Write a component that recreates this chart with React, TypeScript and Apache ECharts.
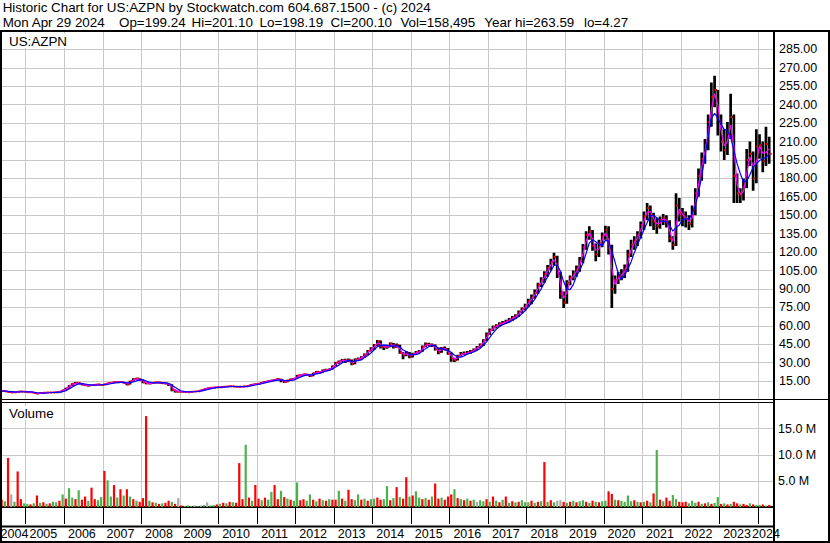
import React, { useEffect, useRef } from "react";
import * as echarts from "echarts";

const FONT = "'Liberation Sans', Arial, Helvetica, sans-serif";

// Monthly bars, May 2004 - Apr 2024 (first line: May-Dec 2004, last line: Jan-Apr 2024)
const firstYear = 2004;
const firstMonth = 5;

const closes = [
  6.9, 6.7, 6.2, 5.8, 6.0, 6.4, 6.6, 6.3,
  6.0, 5.9, 5.3, 4.8, 5.2, 5.5, 5.6, 5.7, 5.8, 6.0, 6.3, 7.6,
  9.0, 11.2, 12.8, 13.6, 13.2, 12.2, 11.6, 11.3, 11.8, 12.0, 12.2, 11.9,
  12.5, 13.2, 13.6, 14.2, 14.0, 14.3, 13.5, 12.3, 14.8, 16.6, 17.0, 16.0,
  14.0, 13.2, 13.0, 13.6, 14.0, 13.8, 13.2, 13.0, 12.2, 8.0, 6.5, 6.6,
  6.3, 6.1, 6.0, 6.4, 6.6, 6.8, 7.5, 8.5, 9.2, 9.6, 9.8, 9.9,
  10.0, 10.3, 10.5, 10.8, 10.6, 10.4, 10.3, 10.6, 10.8, 11.5, 12.2, 12.6,
  13.0, 13.8, 14.5, 15.0, 15.5, 16.0, 16.5, 15.6, 14.2, 15.5, 16.5, 17.0,
  19.5, 19.8, 20.5, 20.2, 19.3, 21.3, 22.6, 22.0, 23.8, 24.0, 24.8, 27.0,
  30.0, 31.0, 32.2, 31.5, 32.0, 28.8, 32.5, 33.0, 34.4, 36.5, 39.5, 41.5,
  44.0, 47.5, 43.0, 42.5, 43.0, 45.5, 43.0, 44.2, 38.0, 36.0, 38.0, 35.0,
  37.0, 38.5, 39.0, 43.0, 45.0, 44.5, 44.0, 41.0, 38.5, 42.0, 41.0, 37.5,
  33.5, 32.0, 35.5, 37.0, 37.5, 38.0, 39.0, 40.5, 42.5, 44.5, 48.0, 53.0,
  56.5, 59.0, 60.0, 61.5, 62.5, 63.5, 65.0, 66.5, 68.0, 71.0, 73.5, 76.5,
  80, 83, 87, 93.5, 97, 102, 107, 112, 116, 103, 86, 79,
  95, 99, 102, 106, 113, 124, 134, 137, 125, 118, 127, 133,
  138, 123, 90, 97, 100, 102, 106, 118, 126, 129, 134, 142,
  149, 156, 150, 145, 141, 146, 148, 144, 131, 126, 158, 152,
  150, 147, 143, 152, 168, 182, 196, 207, 226, 246, 252, 228,
  210, 203, 217, 230, 182, 168, 166, 173, 195, 200, 180, 206,
  207, 194, 208, 200.1,
];

const highs = [
  7.4, 7.2, 7.0, 6.4, 6.5, 6.8, 7.1, 6.9,
  6.5, 6.3, 6.0, 5.4, 5.6, 5.9, 6.0, 6.1, 6.2, 6.4, 6.8, 8.0,
  9.6, 11.6, 13.2, 14.2, 14.0, 13.4, 12.6, 12.0, 12.3, 12.5, 12.8, 12.6,
  12.9, 13.6, 14.1, 14.6, 14.6, 14.8, 14.5, 13.6, 15.2, 17.2, 17.8, 17.2,
  16.2, 14.4, 13.7, 14.0, 14.5, 14.5, 14.0, 13.6, 13.3, 12.4, 8.2, 7.2,
  6.9, 6.6, 6.4, 6.8, 7.0, 7.2, 7.9, 8.8, 9.6, 10.0, 10.2, 10.3,
  10.4, 10.7, 11.0, 11.2, 11.1, 10.9, 10.8, 11.0, 11.2, 11.9, 12.6, 13.0,
  13.5, 14.2, 15.0, 15.4, 16.0, 16.5, 17.2, 16.8, 15.7, 16.0, 17.0, 17.6,
  19.9, 20.4, 21.0, 21.0, 20.6, 21.7, 23.2, 23.0, 24.4, 25.0, 25.3, 27.6,
  30.6, 31.8, 33.0, 33.2, 33.4, 32.6, 33.4, 34.2, 35.2, 37.4, 40.4, 42.6,
  45.2, 48.5, 48.0, 44.5, 44.6, 46.5, 46.0, 45.6, 44.6, 38.6, 39.5, 38.6,
  38.0, 39.5, 40.2, 44.0, 46.5, 46.2, 45.6, 44.8, 42.0, 42.8, 43.2, 42.0,
  38.0, 34.0, 36.5, 38.6, 39.0, 39.4, 40.2, 41.6, 43.5, 45.6, 49.0, 54.5,
  57.8, 60.2, 61.2, 62.8, 64.0, 65.0, 66.4, 68.0, 69.4, 72.4, 75.0, 78.0,
  82, 85.5, 89.5, 95, 99.5, 104.5, 109.5, 114.5, 119.5, 117, 104, 88,
  97, 101, 105, 109, 116, 126.5, 137, 141, 138, 127, 130, 136,
  141.5, 141, 126, 101, 104, 106, 110, 122, 130, 133, 137, 145,
  153, 160, 158, 152, 148, 149, 151, 150, 146, 133, 168, 164,
  156, 153, 150, 158, 172, 188, 201, 212, 232, 258, 263.6, 252,
  232, 220, 226, 249, 232, 184, 172, 180, 204, 210, 202, 220,
  216, 210, 222, 214,
];

const lows = [
  6.4, 6.2, 5.6, 5.2, 5.5, 5.8, 6.1, 5.9,
  5.8, 5.6, 5.0, 4.3, 4.7, 5.0, 5.3, 5.3, 5.4, 5.6, 5.9, 6.2,
  7.5, 8.8, 11.0, 12.6, 12.4, 11.6, 10.9, 10.6, 11.0, 11.4, 11.7, 11.3,
  11.6, 12.3, 12.9, 13.4, 13.5, 13.7, 13.0, 11.6, 12.2, 14.6, 16.0, 15.3,
  13.2, 12.5, 12.4, 12.6, 13.2, 13.2, 12.6, 12.4, 11.0, 6.8, 5.6, 5.8,
  5.8, 5.7, 5.6, 5.9, 6.2, 6.4, 6.8, 7.4, 8.4, 9.1, 9.3, 9.5,
  9.6, 9.8, 10.1, 10.3, 10.2, 10.0, 9.9, 10.1, 10.4, 10.7, 11.4, 12.0,
  12.4, 12.9, 13.7, 14.4, 14.8, 15.3, 15.8, 14.0, 13.4, 14.0, 15.3, 16.2,
  17.0, 18.9, 19.6, 19.4, 18.4, 19.0, 21.0, 21.3, 21.8, 23.0, 23.5, 24.5,
  27.0, 29.2, 30.4, 29.8, 30.6, 27.8, 28.6, 31.6, 32.6, 34.0, 36.2, 39.0,
  40.2, 43.5, 41.5, 40.2, 41.4, 42.6, 41.6, 42.2, 37.2, 32.8, 35.2, 33.6,
  34.2, 36.2, 37.4, 38.6, 42.6, 43.4, 42.8, 39.8, 36.8, 38.0, 39.8, 36.4,
  30.8, 30.6, 31.8, 35.0, 36.2, 36.6, 37.2, 38.6, 40.2, 42.0, 43.6, 47.6,
  52.6, 55.8, 57.8, 59.2, 60.6, 61.4, 62.6, 64.0, 65.6, 67.2, 70.2, 72.6,
  75.5, 77.5, 82, 86, 91.5, 95, 100, 105, 109, 99, 82, 74.5,
  78, 93, 97, 100, 104, 111, 122, 130, 121, 112.5, 116, 124,
  130, 118, 74.5, 86, 94, 97, 99, 104, 116, 122, 125, 131,
  138, 146, 141, 138, 135, 139, 142, 140, 128, 122, 125, 145,
  141, 140, 138, 140, 150, 165, 178, 192, 203, 222, 238, 215,
  202, 195, 199, 212, 160, 160, 160, 162, 172, 190, 170, 176,
  196, 185, 190, 192,
];

// short moving average (magenta)
const maFast = [
  6.9, 6.8, 6.5, 6.0, 5.9, 6.2, 6.5, 6.5,
  6.2, 6.0, 5.6, 5.1, 5.0, 5.4, 5.6, 5.7, 5.8, 5.9, 6.2, 7.0,
  8.3, 10.1, 12.0, 13.2, 13.4, 12.7, 11.9, 11.5, 11.6, 11.9, 12.1, 12.0,
  12.2, 12.9, 13.4, 13.9, 14.1, 14.2, 13.9, 12.9, 13.6, 15.7, 16.8, 16.5,
  15.0, 13.6, 13.1, 13.3, 13.8, 13.9, 13.5, 13.1, 12.6, 10.1, 7.3, 6.6,
  6.5, 6.2, 6.1, 6.2, 6.5, 6.7, 7.2, 8.0, 8.9, 9.4, 9.7, 9.9,
  10.0, 10.2, 10.4, 10.7, 10.7, 10.5, 10.4, 10.5, 10.7, 11.2, 11.9, 12.4,
  12.8, 13.4, 14.2, 14.8, 15.3, 15.8, 16.3, 16.0, 14.9, 14.9, 16.0, 16.8,
  18.3, 19.7, 20.2, 20.4, 19.8, 20.3, 22.0, 22.3, 22.9, 23.9, 24.4, 25.9,
  28.5, 30.5, 31.6, 31.9, 31.8, 30.4, 30.7, 32.8, 33.7, 35.5, 38.0, 40.5,
  42.8, 45.8, 45.3, 42.8, 42.8, 44.3, 44.3, 43.6, 41.1, 37.0, 37.0, 36.5,
  36.0, 37.8, 38.8, 41.0, 44.0, 44.8, 44.3, 42.5, 39.8, 40.3, 41.5, 39.3,
  35.5, 32.8, 33.8, 36.3, 37.3, 37.8, 38.5, 39.8, 41.5, 43.5, 46.3, 50.5,
  54.8, 57.8, 59.5, 60.8, 62.0, 63.0, 64.3, 65.8, 67.3, 69.5, 72.3, 75.0,
  78.3, 81.5, 85.0, 90.3, 95.3, 99.5, 104.5, 109.5, 114.0, 109.5, 94.5, 82.5,
  87.0, 97.0, 100.5, 104.0, 109.5, 118.5, 129.0, 135.5, 131.0, 121.5, 122.5, 130.0,
  135.5, 130.5, 106.5, 93.5, 98.5, 101.0, 104.0, 112.0, 122.0, 127.5, 131.5, 138.0,
  145.5, 152.5, 153.0, 147.5, 143.0, 143.5, 147.0, 146.0, 137.5, 128.5, 142.0, 155.0,
  151.0, 148.5, 145.0, 147.5, 160.0, 175.0, 189.0, 201.5, 216.5, 236.0, 249.0, 240.0,
  219.0, 206.5, 210.0, 223.5, 206.0, 175.0, 167.0, 169.5, 184.0, 197.5, 190.0, 193.0,
  206.5, 200.5, 201.0, 204.0,
];

// long moving average (blue)
const maSlow = [
  6.9, 6.8, 6.6, 6.4, 6.2, 6.1, 6.2, 6.3,
  6.3, 6.2, 6.0, 5.5, 5.3, 5.2, 5.3, 5.5, 5.7, 5.8, 5.9, 6.4,
  7.2, 8.5, 10.2, 11.7, 12.7, 12.9, 12.6, 12.1, 11.7, 11.7, 11.8, 12.0,
  12.1, 12.4, 12.8, 13.4, 13.8, 14.0, 14.0, 13.5, 13.7, 14.3, 15.2, 16.1,
  16.0, 15.1, 14.1, 13.5, 13.5, 13.6, 13.7, 13.5, 13.1, 11.6, 9.9, 8.3,
  6.9, 6.4, 6.3, 6.2, 6.3, 6.5, 6.8, 7.4, 8.0, 8.7, 9.3, 9.6,
  9.8, 10.0, 10.2, 10.4, 10.6, 10.6, 10.5, 10.5, 10.5, 10.8, 11.3, 11.8,
  12.3, 12.8, 13.5, 14.1, 14.7, 15.3, 15.8, 15.9, 15.6, 15.4, 15.5, 15.8,
  17.1, 18.2, 19.2, 20.0, 20.0, 20.3, 20.9, 21.3, 22.4, 23.1, 23.7, 24.9,
  26.5, 28.0, 29.8, 31.2, 31.7, 31.1, 31.2, 31.6, 32.2, 34.1, 35.9, 37.9,
  40.4, 43.1, 44.0, 44.3, 44.0, 43.5, 43.5, 43.9, 42.7, 40.3, 39.1, 36.8,
  36.5, 36.6, 37.4, 39.4, 41.4, 42.9, 44.1, 43.6, 42.0, 41.4, 40.6, 39.8,
  38.5, 36.0, 34.6, 34.5, 35.5, 37.0, 37.9, 38.8, 40.0, 41.6, 43.9, 47.0,
  50.5, 54.1, 57.1, 59.3, 60.8, 61.9, 63.0, 64.4, 65.8, 67.6, 69.8, 72.3,
  75.3, 78.3, 81.6, 85.9, 90.1, 94.9, 99.9, 104.5, 109.3, 109.5, 104.3, 96.0,
  90.0, 89.5, 93.5, 100.5, 105.0, 111.0, 119.0, 127.5, 130.0, 128.5, 126.5, 125.5,
  129.5, 129.0, 121.0, 112.0, 102.5, 97.5, 101.0, 106.5, 112.0, 119.5, 126.0, 132.0,
  138.0, 144.0, 149.5, 150.0, 148.0, 145.5, 145.0, 145.0, 142.0, 137.0, 140.0, 142.0,
  146.5, 147.0, 147.0, 151.0, 158.0, 168.0, 182.0, 198.0, 214.0, 229.0, 233.0, 229.0,
  224.0, 220.0, 219.0, 213.5, 203.0, 192.0, 184.0, 177.0, 178.0, 183.0, 189.0, 192.0,
  194.6, 196.0, 197.0, 200.0,
];

// volume in millions (tallest bar in each month)
const volumes = [
  1.4, 1.1, 9.4, 2.4, 1.0, 6.8, 1.5, 0.7,
  0.6, 0.5, 0.7, 2.2, 0.8, 0.9, 0.6, 0.7, 1.0, 0.9, 1.2, 2.4,
  1.6, 3.6, 1.8, 1.5, 3.2, 1.4, 2.0, 1.2, 3.7, 1.5, 1.3, 1.9,
  6.9, 5.1, 2.0, 4.2, 1.8, 3.4, 2.2, 3.4, 2.0, 1.5, 1.2, 1.0,
  1.7, 17.4, 1.2, 0.9, 0.8, 0.6, 0.7, 0.8, 1.2, 1.0, 0.6, 1.7,
  0.3, 0.2, 0.3, 0.2, 0.3, 0.2, 0.3, 0.4, 0.9, 0.3, 0.4, 0.5,
  0.6, 0.8, 0.7, 1.0, 0.9, 0.8, 8.4, 1.5, 11.9, 1.8, 1.2, 4.2,
  1.6, 1.3, 1.8, 1.4, 2.9, 4.2, 1.5, 3.1, 1.9, 1.6, 1.4, 1.2,
  4.7, 1.3, 1.5, 1.2, 2.4, 1.4, 1.1, 1.6, 1.3, 1.2, 1.5, 1.4,
  1.4, 3.1, 1.6, 1.2, 3.3, 1.5, 1.3, 2.4, 1.4, 1.6, 1.2, 1.5,
  1.6, 1.8, 1.4, 1.5, 4.0, 1.3, 1.7, 3.8, 1.9, 1.6, 5.7, 2.0,
  2.2, 3.0, 1.8, 1.5, 1.7, 1.4, 2.0, 4.5, 1.6, 1.8, 1.4, 2.0,
  2.4, 3.4, 1.7, 1.5, 1.3, 1.6, 1.2, 1.4, 1.0, 1.3, 1.1, 1.5,
  1.0, 2.0, 1.2, 0.9, 1.4, 2.0, 0.8, 1.1, 0.9, 1.0, 1.3, 0.9,
  0.9, 1.2, 0.8, 1.0, 1.1, 8.6, 1.0, 1.3, 0.9, 1.2, 1.3, 1.0,
  0.8, 1.0, 1.2, 0.9, 1.1, 1.3, 1.0, 0.8, 1.2, 1.0, 0.9, 1.1,
  1.2, 3.0, 2.5, 1.4, 1.3, 1.2, 1.0, 2.2, 1.1, 1.3, 1.0, 0.9,
  1.0, 1.2, 0.9, 2.6, 10.9, 1.4, 1.1, 1.8, 1.2, 2.3, 1.5, 1.0,
  0.9, 1.0, 0.7, 1.2, 0.8, 1.0, 0.6, 0.7, 0.9, 0.6, 0.8, 1.9,
  0.6, 0.7, 0.5, 0.6, 1.0, 0.7, 0.5, 0.6, 0.4, 0.7, 0.5, 0.4,
  0.4, 0.5, 0.3, 0.4,
];

// r = down (red), g = up (green), x = unchanged (grey)
const volumeDirections = [
  "rgrxgrrg",
  "grgrgrgrggrg", "rggrgrrgrrgg", "rggrgrgrgrgr", "rrgrgrgrrgrx", "rgggxgxgxggr",
  "grgrgrrrgrgr", "rgrggrrgrgrg", "grrggrgrgrgr", "rgrgrrggrgrg", "grrggrgrgrrg",
  "rggrgrgrrgrr", "rgrgrgrgxggr", "grgrgrgrgrgg", "grgrgrgrgxxr", "grgrggrgrgrg",
  "grrgrggggrgr", "grgrgrgrrggr", "rrgggrgrgrgg", "rgrgrrgrrgrg",
  "grgr",
].join("");

const yearLabelMonth: Record<number, number> = { 2004: 9, 2024: 3 };
const titleLine1 = "Historic Chart for US:AZPN by Stockwatch.com 604.687.1500 - (c) 2024";
const titleLine2 = [
  "Mon Apr 29 2024", "Op=199.24", "Hi=201.10", "Lo=198.19",
  "Cl=200.10", "Vol=158,495", "Year hi=263.59", "lo=4.27",
];

const categories: string[] = closes.map((_, i) => {
  const m = firstMonth - 1 + i;
  const y = firstYear + Math.floor(m / 12);
  const mm = (m % 12) + 1;
  return `${y}-${String(mm).padStart(2, "0")}`;
});

const isJan = (i: number) => {
  const c = categories[i];
  return c !== undefined && c.endsWith("-01");
};
const isLabel = (i: number) => {
  const c = categories[i];
  if (!c) return false;
  const y = Number(c.slice(0, 4));
  const m = Number(c.slice(5));
  return m === (yearLabelMonth[y] ?? 6);
};

const volColor: Record<string, string> = { r: "#ff0000", g: "#4cb04c", x: "#a8a8a8" };

function buildOption(): any {
  const gridLine = { show: true, lineStyle: { color: "#c8c8c8", width: 1 } };
  const line = (x1: number, y1: number, x2: number, y2: number, w: number) => ({
    type: "line",
    z: 100,
    shape: { x1, y1, x2, y2 },
    style: { stroke: "#000", lineWidth: w },
    silent: true,
  });
  const text = (t: string, x: number, y: number, bg?: boolean) => ({
    type: "text",
    z: 100,
    x,
    y,
    style: {
      text: t,
      fill: "#000",
      font: `13.4px ${FONT}`,
      verticalAlign: "middle",
      align: "left",
      ...(bg ? { backgroundColor: "#fff", padding: [1, 3, 0, 3] } : {}),
    },
    silent: true,
  });
  const line2X = [2.7, 119, 191.5, 259.5, 330.6, 400.4, 484.3, 583.9];

  return {
    animation: false,
    backgroundColor: "#fff",
    textStyle: { fontFamily: FONT },
    grid: [
      { left: 0, right: 56, top: 31, height: 368.5, outerBoundsMode: "none", containLabel: false },
      { left: 0, right: 56, top: 402.5, height: 104.5, outerBoundsMode: "none", containLabel: false },
    ],
    xAxis: [
      {
        type: "category",
        gridIndex: 0,
        data: categories,
        max: categories.length,
        boundaryGap: true,
        axisLine: { show: true, lineStyle: { color: "#000", width: 1 } },
        axisTick: { show: false },
        axisLabel: { show: false },
        splitLine: { ...gridLine, interval: (i: number) => isJan(i) },
      },
      {
        type: "category",
        gridIndex: 1,
        data: categories,
        max: categories.length,
        boundaryGap: true,
        offset: 1,
        axisLine: { show: true, lineStyle: { color: "#000", width: 2 } },
        axisTick: {
          show: true,
          interval: (i: number) => isJan(i),
          length: 17,
          lineStyle: { color: "#000", width: 1 },
        },
        axisLabel: {
          show: true,
          interval: (i: number) => isLabel(i),
          formatter: (v: string) => (v ? v.slice(0, 4) : ""),
          margin: 19,
          fontSize: 12.5,
          color: "#000",
          fontFamily: FONT,
        },
        splitLine: { ...gridLine, interval: (i: number) => isJan(i) },
      },
    ],
    yAxis: [
      {
        type: "value",
        gridIndex: 0,
        position: "right",
        min: 0,
        max: 300,
        interval: 15,
        axisLine: { show: false },
        axisTick: { show: false },
        axisLabel: {
          margin: 5,
          fontSize: 12.5,
          color: "#000",
          fontFamily: FONT,
          formatter: (v: number) => (v <= 0 || v >= 300 ? "" : v.toFixed(2)),
        },
        splitLine: gridLine,
      },
      {
        type: "value",
        gridIndex: 1,
        position: "right",
        min: 0,
        max: 20,
        interval: 5,
        axisLine: { show: false },
        axisTick: { show: false },
        axisLabel: {
          margin: 4,
          fontSize: 12.5,
          color: "#000",
          fontFamily: FONT,
          formatter: (v: number) => (v <= 0 || v >= 20 ? "" : `${v.toFixed(1)} M`),
        },
        splitLine: gridLine,
      },
    ],
    series: [
      {
        type: "custom",
        xAxisIndex: 0,
        yAxisIndex: 0,
        clip: true,
        z: 2,
        data: closes.map((c, i) => [i, lows[i], highs[i], c]),
        encode: { x: 0, y: [1, 2, 3] },
        renderItem: (_p: any, api: any) => {
          const i = api.value(0);
          const lo = api.coord([i, api.value(1)]);
          const hi = api.coord([i, api.value(2)]);
          const cl = api.coord([i, api.value(3)]);
          return {
            type: "group",
            children: [
              {
                type: "line",
                shape: { x1: lo[0], y1: lo[1], x2: hi[0], y2: hi[1] },
                style: { stroke: "#000", lineWidth: 2.7 },
              },
              {
                type: "line",
                shape: { x1: cl[0], y1: cl[1], x2: cl[0] + 2.5, y2: cl[1] },
                style: { stroke: "#ff0000", lineWidth: 2 },
              },
            ],
          };
        },
      },
      {
        type: "line",
        xAxisIndex: 0,
        yAxisIndex: 0,
        data: maFast,
        showSymbol: false,
        z: 3,
        lineStyle: { color: "#ff00ff", width: 1.2 },
      },
      {
        type: "line",
        xAxisIndex: 0,
        yAxisIndex: 0,
        data: maSlow,
        showSymbol: false,
        z: 4,
        lineStyle: { color: "#0000ff", width: 1.2 },
      },
      {
        type: "bar",
        xAxisIndex: 1,
        yAxisIndex: 1,
        barWidth: 2.2,
        data: volumes.map((v, i) => ({
          value: v,
          itemStyle: { color: volColor[volumeDirections[i]] || "#a8a8a8" },
        })),
      },
    ],
    graphic: [
      line(0, 31, 830, 31, 2),
      line(1, 31, 1, 543, 2),
      line(829, 31, 829, 543, 2),
      line(0, 542, 830, 542, 2),
      line(774, 31, 774, 543, 2),
      line(774, 399.5, 830, 399.5, 1),
      line(0, 402.5, 774, 402.5, 1),
      line(0, 526.5, 774, 526.5, 2),
      text(titleLine1, 2.7, 7.5),
      ...titleLine2.map((t, k) => text(t, line2X[k], 22.5)),
      text("US:AZPN", 6, 41, true),
      text("Volume", 6, 413, true),
    ],
  };
}

export default function App() {
  const ref = useRef<HTMLDivElement>(null);
  useEffect(() => {
    if (!ref.current) return;
    const chart = echarts.init(ref.current, undefined, { renderer: "svg" });
    chart.setOption(buildOption());
    return () => chart.dispose();
  }, []);
  return (
    <div
      ref={ref}
      style={{ position: "fixed", left: 0, top: 0, width: 830, height: 543, background: "#fff" }}
    />
  );
}
